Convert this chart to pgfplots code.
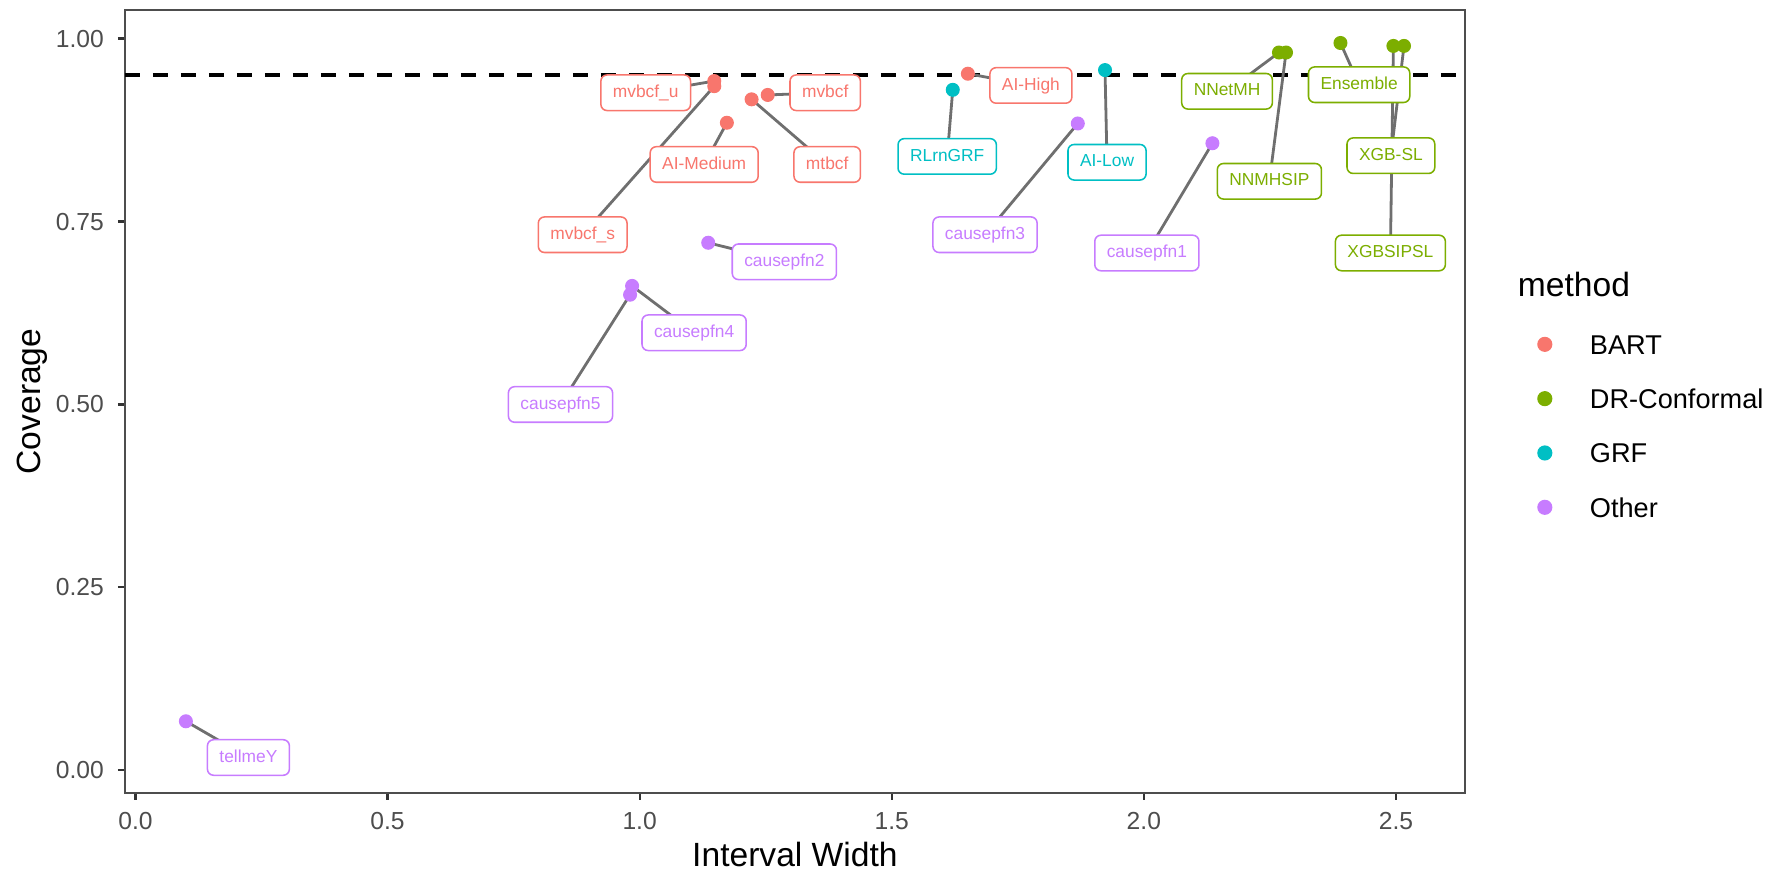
\documentclass[border=0pt]{standalone}
\usepackage{fontspec}
\setmainfont{Liberation Sans}
\usepackage{pgfplots}
\pgfplotsset{compat=1.18}
\definecolor{cBART}{HTML}{F8766D}
\definecolor{cDR}{HTML}{7CAE00}
\definecolor{cGRF}{HTML}{00BFC4}
\definecolor{cOther}{HTML}{C77CFF}
\definecolor{segc}{HTML}{6F6F6F}
\definecolor{framec}{HTML}{4D4D4D}
\definecolor{tickc}{HTML}{333333}
\definecolor{ticklab}{HTML}{4D4D4D}
\tikzset{lab/.style={draw=#1, text=#1, fill=white, rounded corners=2.2pt, line width=0.55pt, inner xsep=4.3pt, inner ysep=0pt, minimum height=12.7pt, text height=4.6pt, text depth=1.3pt, font=\fontsize{6.2}{7}\selectfont}}
\pgfplotsset{pt/.style={only marks, mark=*, mark size=2.3pt, color=#1, mark options={draw=none, fill=#1}, legend image code/.code={\fill[#1] (0pt,0pt) circle (2.5pt);}}}
\pgfplotsset{sg/.style={segc, line width=1pt, forget plot}}
\begin{document}
\begin{tikzpicture}
\useasboundingbox (-44.6pt,-27.5pt) rectangle (586.1pt,283.2pt);
\begin{axis}[
  at={(0,0)}, anchor=south west,
  scale only axis, width=478.6pt, height=279.6pt,
  xmin=-0.021, xmax=2.637, ymin=-0.031, ymax=1.039,
  clip=false,
  axis line style={draw=framec, line width=0.7pt},
  tick align=outside, tick pos=left,
  major tick length=2.5pt,
  every tick/.style={draw=tickc, line width=0.8pt},
  xtick={0,0.5,1,1.5,2,2.5},
  ytick={0,0.25,0.5,0.75,1},
  minor tick num=0,
  /pgf/number format/assume math mode=true,
  xticklabel style={font=\fontsize{8.8}{10}\selectfont, text=ticklab, yshift=-0.9pt, /pgf/number format/fixed, /pgf/number format/fixed zerofill, /pgf/number format/precision=1},
  yticklabel style={font=\fontsize{8.8}{10}\selectfont, text=ticklab, xshift=-1.5pt, /pgf/number format/fixed, /pgf/number format/fixed zerofill, /pgf/number format/precision=2},
  xlabel={Interval Width}, ylabel={Coverage},
  every axis x label/.style={at={(axis description cs:0.5,0)}, anchor=base, yshift=-26.3pt, font=\fontsize{12}{14}\selectfont},
  every axis y label/.style={at={(axis description cs:0,0.5)}, xshift=-33pt, rotate=90, anchor=center, font=\fontsize{12}{14}\selectfont},
  legend style={at={(1.0535,0.5862)}, anchor=north west, draw=none, fill=none, inner sep=0pt, row sep=12.45pt, font=\fontsize{9.7}{11.5}\selectfont, nodes={inner sep=0pt, text height=6.95pt, text depth=0pt}, /tikz/every odd column/.style={column sep=13.4pt}},
  legend cell align=left,
]
% reference line
\addplot[black, line width=1.3pt, dash pattern=on 5.3pt off 4.7pt, forget plot] coordinates {(-0.021,0.95) (2.637,0.95)};
% segments from point to label
\addplot[sg] coordinates {(1.148,0.942) (1.012,0.926)};
\addplot[sg] coordinates {(1.148,0.935) (0.887,0.732)};
\addplot[sg] coordinates {(1.173,0.885) (1.128,0.828)};
\addplot[sg] coordinates {(1.222,0.917) (1.372,0.828)};
\addplot[sg] coordinates {(1.254,0.923) (1.368,0.926)};
\addplot[sg] coordinates {(1.651,0.952) (1.776,0.936)};
\addplot[sg] coordinates {(1.621,0.930) (1.610,0.839)};
\addplot[sg] coordinates {(1.923,0.957) (1.927,0.831)};
\addplot[sg] coordinates {(2.268,0.981) (2.165,0.928)};
\addplot[sg] coordinates {(2.282,0.981) (2.249,0.805)};
\addplot[sg] coordinates {(2.390,0.994) (2.427,0.937)};
\addplot[sg] coordinates {(2.495,0.990) (2.489,0.707)};
\addplot[sg] coordinates {(2.516,0.990) (2.490,0.840)};
\addplot[sg] coordinates {(0.100,0.067) (0.224,0.0175)};
\addplot[sg] coordinates {(0.981,0.650) (0.843,0.500)};
\addplot[sg] coordinates {(0.985,0.662) (1.108,0.598)};
\addplot[sg] coordinates {(1.136,0.721) (1.287,0.695)};
\addplot[sg] coordinates {(1.869,0.884) (1.685,0.732)};
\addplot[sg] coordinates {(2.136,0.857) (2.006,0.707)};
% points
\addplot[pt=cBART] coordinates {(1.148,0.942) (1.148,0.935) (1.173,0.885) (1.222,0.917) (1.254,0.923) (1.651,0.952)};
\addlegendentry{BART}
\addplot[pt=cDR] coordinates {(2.268,0.981) (2.282,0.981) (2.390,0.994) (2.495,0.990) (2.516,0.990)};
\addlegendentry{DR-Conformal}
\addplot[pt=cGRF] coordinates {(1.621,0.930) (1.923,0.957)};
\addlegendentry{GRF}
\addplot[pt=cOther] coordinates {(0.100,0.067) (0.981,0.650) (0.985,0.662) (1.136,0.721) (1.869,0.884) (2.136,0.857)};
\addlegendentry{Other}
% labels
\node[lab=cBART] at (axis cs:1.012,0.926) {mvbcf\_u};
\node[lab=cBART] at (axis cs:0.887,0.732) {mvbcf\_s};
\node[lab=cBART] at (axis cs:1.128,0.828) {AI-Medium};
\node[lab=cBART] at (axis cs:1.372,0.828) {mtbcf};
\node[lab=cBART] at (axis cs:1.368,0.926) {mvbcf};
\node[lab=cBART] at (axis cs:1.776,0.936) {AI-High};
\node[lab=cGRF] at (axis cs:1.610,0.839) {RLrnGRF};
\node[lab=cGRF] at (axis cs:1.927,0.831) {AI-Low};
\node[lab=cDR] at (axis cs:2.165,0.928) {NNetMH};
\node[lab=cDR] at (axis cs:2.249,0.805) {NNMHSIP};
\node[lab=cDR] at (axis cs:2.427,0.937) {Ensemble};
\node[lab=cDR] at (axis cs:2.490,0.840) {XGB-SL};
\node[lab=cDR] at (axis cs:2.489,0.707) {XGBSIPSL};
\node[lab=cOther] at (axis cs:0.224,0.0175) {tellmeY};
\node[lab=cOther] at (axis cs:0.843,0.500) {causepfn5};
\node[lab=cOther] at (axis cs:1.108,0.598) {causepfn4};
\node[lab=cOther] at (axis cs:1.287,0.695) {causepfn2};
\node[lab=cOther] at (axis cs:1.685,0.732) {causepfn3};
\node[lab=cOther] at (axis cs:2.006,0.707) {causepfn1};
% legend title
\node[anchor=base west, inner sep=0pt, font=\fontsize{12}{14}\selectfont] at (rel axis cs:1.0391,0.6341) {method};
\end{axis}
\end{tikzpicture}
\end{document}
